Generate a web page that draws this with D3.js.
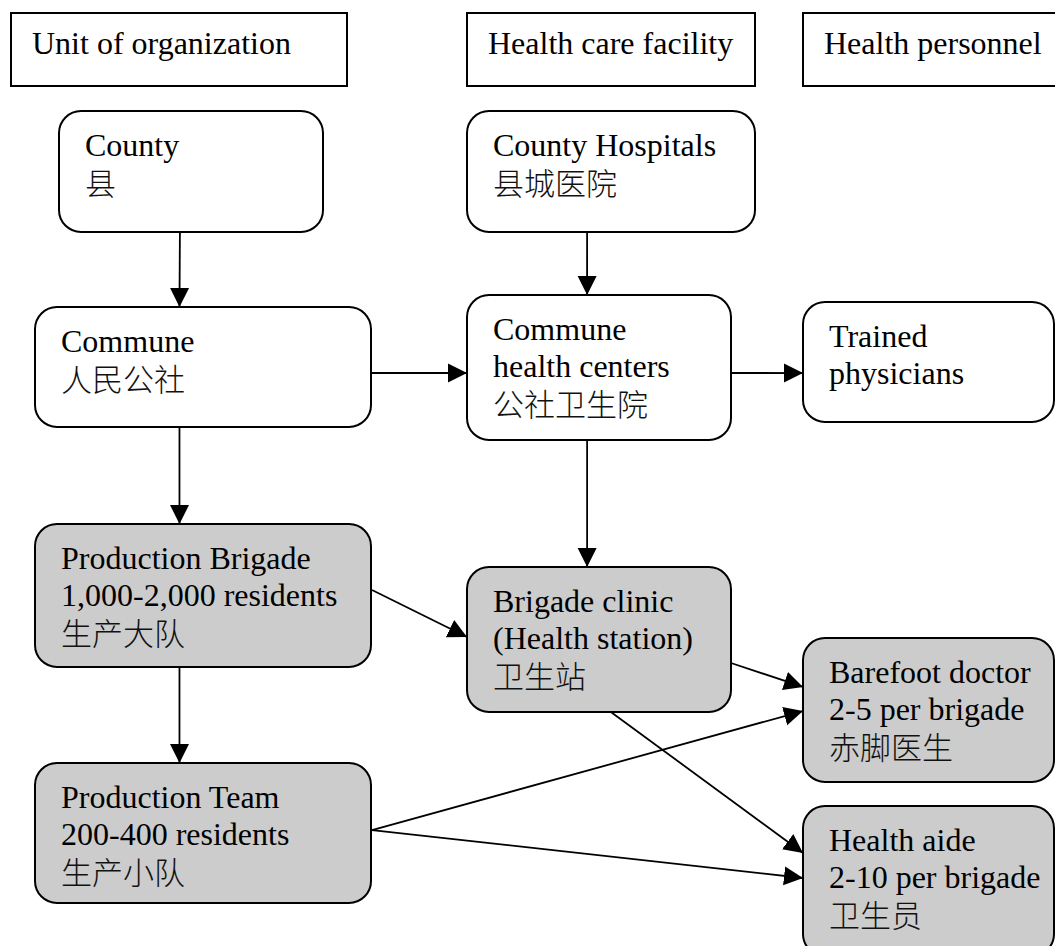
<!DOCTYPE html>
<html>
<head>
<meta charset="utf-8">
<script src="https://cdn.jsdelivr.net/npm/d3@7"></script>
<style>
  body { margin: 0; background: #fff; }
  svg { display: block; }
  text { font-family: "Liberation Serif", "Times New Roman", "Noto Sans CJK SC", serif; font-size: 32px; fill: #000; }
  tspan.cjk { font-family: "Noto Sans CJK SC", sans-serif; font-weight: 300; font-size: 31px; fill: #111; }
</style>
</head>
<body>
<div id="chart"></div>
<script>
// column headings
const headers = ["Unit of organization", "Health care facility", "Health personnel"];

// boxes: id, text lines, shaded or not
const nodeIds = ["county", "commune", "brigade", "team", "hospital", "center", "clinic", "physician", "barefoot", "aide"];
const nodeLines = [
  ["County", "县"],
  ["Commune", "人民公社"],
  ["Production Brigade", "1,000-2,000 residents", "生产大队"],
  ["Production Team", "200-400 residents", "生产小队"],
  ["County Hospitals", "县城医院"],
  ["Commune", "health centers", "公社卫生院"],
  ["Brigade clinic", "(Health station)", "卫生站"],
  ["Trained", "physicians"],
  ["Barefoot doctor", "2-5 per brigade", "赤脚医生"],
  ["Health aide", "2-10 per brigade", "卫生员"]
];
const nodeShaded = [false, false, true, true, false, false, true, false, true, true];

// links between boxes
const linkFrom = ["county", "hospital", "commune", "center", "commune", "center", "brigade", "brigade", "clinic", "clinic", "team", "team"];
const linkTo   = ["commune", "center", "center", "physician", "brigade", "clinic", "team", "clinic", "barefoot", "aide", "barefoot", "aide"];

// ---- layout (page geometry, kept apart from the data) ----
const W = 1055, H = 946;
const headerBox = [[11, 347], [467, 755], [803, 1062]];
const headerY = [13, 86];

const boxGeom = {
  county:    { x: 59,  y: 111, w: 264, h: 121 },
  commune:   { x: 35,  y: 307, w: 336, h: 120 },
  brigade:   { x: 35,  y: 524, w: 336, h: 143 },
  team:      { x: 35,  y: 763, w: 336, h: 140 },
  hospital:  { x: 467, y: 111, w: 288, h: 121 },
  center:    { x: 467, y: 295, w: 264, h: 145 },
  clinic:    { x: 467, y: 567, w: 264, h: 145 },
  physician: { x: 803, y: 302, w: 251, h: 120 },
  barefoot:  { x: 803, y: 638, w: 251, h: 144 },
  aide:      { x: 803, y: 806, w: 251, h: 150 }
};
// anchor points as fractions of the box [fx, fy]
const linkAnchor = [
  [[0.458, 1], [0.43, 0]],
  [[0.417, 1], [0.455, 0]],
  [[1, 0.55], [0, 0.538]],
  [[1, 0.538], [0, 0.592]],
  [[0.43, 1], [0.43, 0]],
  [[0.455, 1], [0.455, 0]],
  [[0.43, 1], [0.43, 0]],
  [[1.003, 0.462], [0, 0.483]],
  [[1, 0.662], [0, 0.34]],
  [[0.545, 1], [0, 0.313]],
  [[1.003, 0.479], [0, 0.507]],
  [[1.003, 0.479], [0, 0.48]]
];

const isCJK = (s) => /[\u4e00-\u9fff]/.test(s);

const svg = d3.select("#chart").append("svg")
  .attr("width", W)
  .attr("height", H);

const defs = svg.append("defs");
defs.append("marker")
  .attr("id", "arrow")
  .attr("viewBox", "0 0 10 10")
  .attr("refX", 10)
  .attr("refY", 5)
  .attr("markerUnits", "userSpaceOnUse")
  .attr("markerWidth", 19)
  .attr("markerHeight", 20)
  .attr("orient", "auto")
  .append("path")
  .attr("d", "M0,0L10,5L0,10Z")
  .attr("fill", "#000");

// header boxes
const hdr = svg.selectAll(".hdr")
  .data(headers)
  .enter()
  .append("g")
  .attr("class", "hdr");

hdr.append("rect")
  .attr("x", (d, i) => headerBox[i][0])
  .attr("y", headerY[0])
  .attr("width", (d, i) => headerBox[i][1] - headerBox[i][0])
  .attr("height", headerY[1] - headerY[0])
  .attr("fill", "#fff")
  .attr("stroke", "#000")
  .attr("stroke-width", 2);

hdr.append("text")
  .attr("x", (d, i) => headerBox[i][0] + 21)
  .attr("y", 54)
  .text((d) => d);

const nodes = nodeIds.map((id, i) => ({ id, lines: nodeLines[i], shaded: nodeShaded[i], ...boxGeom[id] }));
const byId = new Map(nodes.map((n) => [n.id, n]));

const links = linkFrom.map((f, i) => {
  const a = byId.get(f), b = byId.get(linkTo[i]);
  const [fa, ta] = linkAnchor[i];
  return {
    x1: a.x + fa[0] * a.w, y1: a.y + fa[1] * a.h,
    x2: b.x + ta[0] * b.w, y2: b.y + ta[1] * b.h
  };
});

// boxes
const box = svg.selectAll(".node")
  .data(nodes)
  .enter()
  .append("g")
  .attr("class", "node")
  .attr("transform", (d) => `translate(${d.x},${d.y})`);

box.append("rect")
  .attr("width", (d) => d.w)
  .attr("height", (d) => d.h)
  .attr("rx", 22)
  .attr("ry", 22)
  .attr("fill", (d) => (d.shaded ? "#cccccc" : "#fff"))
  .attr("stroke", "#000")
  .attr("stroke-width", 2);

box.append("text")
  .attr("x", 26)
  .attr("y", 45)
  .selectAll("tspan")
  .data((d) => d.lines)
  .enter()
  .append("tspan")
  .attr("class", (d) => (isCJK(d) ? "cjk" : null))
  .attr("x", 26)
  .attr("dy", (d, i) => (i === 0 ? 0 : isCJK(d) ? 39 : 37))
  .text((d) => d);

svg.selectAll(".link")
  .data(links)
  .enter()
  .append("line")
  .attr("class", "link")
  .attr("x1", (d) => d.x1)
  .attr("y1", (d) => d.y1)
  .attr("x2", (d) => d.x2)
  .attr("y2", (d) => d.y2)
  .attr("stroke", "#000")
  .attr("stroke-width", 1.8)
  .attr("marker-end", "url(#arrow)");
</script>
</body>
</html>
